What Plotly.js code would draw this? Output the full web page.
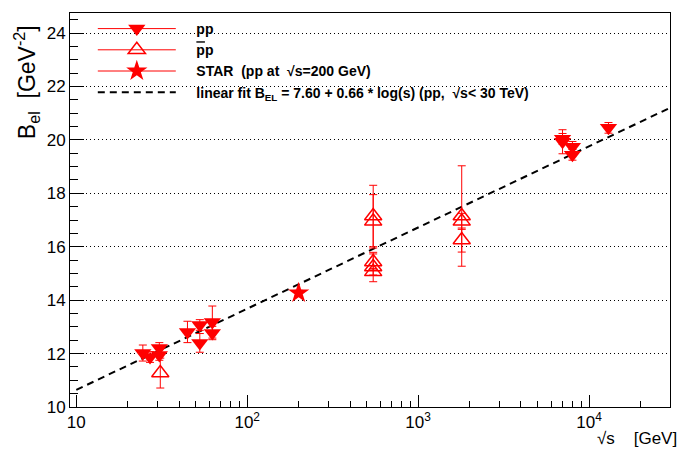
<!DOCTYPE html>
<html>
<head>
<meta charset="utf-8">
<script src="https://cdn.plot.ly/plotly-3.0.1.min.js"></script>
<style>html,body{margin:0;padding:0;background:#fff;}#chart{width:692px;height:455px;}</style>
</head>
<body>
<div id="chart"></div>
<script>
// pp data (filled down triangles)
const ppSqrtS = [24.5, 27, 30.6, 30.6, 44.7, 52.8, 52.8, 62.5, 62.5, 7000, 7000, 8000, 8000, 13000];
const ppB     = [12.02, 11.87, 12.21, 11.95, 12.81, 13.07, 12.40, 13.18, 12.77, 20.04, 19.93, 19.74, 19.44, 20.45];
const ppErr   = [0.3, 0.2, 0.2, 0.2, 0.4, 0.2, 0.35, 0.6, 0.25, 0.2, 0.45, 0.2, 0.2, 0.2];

// pbar-p data (open up triangles)
const pbarpSqrtS = [31, 546, 546, 546, 546, 546, 1800, 1800, 1800];
const pbarpB     = [11.27, 17.15, 16.95, 15.43, 15.24, 15.06, 17.15, 16.95, 16.25];
const pbarpErr   = [0.56, 1.15, 1.0, 0.3, 0.55, 0.12, 1.88, 0.3, 0.45];

// STAR point
const starSqrtS = [200];
const starB     = [14.27];
const starErr   = [0.1];

// linear fit line endpoints
const fitSqrtS = [10, 30000];
const fitB     = [10.64, 21.21];

// tick labels
const xTickVals = [10, 100, 1000, 10000];
const xTickText = ['10', '10<sup>2</sup>', '10<sup>3</sup>', '10<sup>4</sup>'];
const xMinorVals = [20,30,40,50,60,70,80,90,200,300,400,500,600,700,800,900,2000,3000,4000,5000,6000,7000,8000,9000,20000];
const yTickVals = [10, 12, 14, 16, 18, 20, 22, 24];

// legend labels
const legendNames = [
  'pp',
  '<span style="text-decoration:overline">p</span>p',
  'STAR  (pp at  \u221As=200 GeV)',
  'linear fit B<sub>EL</sub> = 7.60 + 0.66 * log(s) (pp,  \u221As< 30 TeV)'
];

const red = '#ff0000';
const font = 'Liberation Sans, Arial, Helvetica, sans-serif';
const pad = '\u00a0\u00a0\u00a0\u00a0';

const traces = [
  {x: fitSqrtS, y: fitB, mode: 'lines', line: {color: '#000', width: 2, dash: '7px,5px'}, showlegend: false, hoverinfo: 'skip'},
  {x: pbarpSqrtS, y: pbarpB, mode: 'markers', showlegend: false,
   marker: {symbol: 'triangle-up-open', size: 15, color: red, line: {color: red, width: 1.5}},
   error_y: {type: 'data', array: pbarpErr, color: red, thickness: 1, width: 4}},
  {x: ppSqrtS, y: ppB, mode: 'markers', showlegend: false,
   marker: {symbol: 'triangle-down', size: 15, color: red},
   error_y: {type: 'data', array: ppErr, color: red, thickness: 1, width: 4}},
  {x: starSqrtS, y: starB, mode: 'markers', showlegend: false,
   marker: {symbol: 'star', size: 16, color: red},
   error_y: {type: 'data', array: starErr, color: red, thickness: 1, width: 4}},
  // legend entries
  {x: [null], y: [null], mode: 'lines+markers', name: pad + legendNames[0], legendgroup: 'a',
   line: {color: red, width: 1}, marker: {symbol: 'triangle-down', size: 15, color: red}},
  {x: [null], y: [null], mode: 'lines+markers', name: pad + legendNames[1], legendgroup: 'b',
   line: {color: red, width: 1}, marker: {symbol: 'triangle-up-open', size: 15, color: red, line: {color: red, width: 1.5}}},
  {x: [null], y: [null], mode: 'lines+markers', name: pad + legendNames[2], legendgroup: 'c',
   line: {color: red, width: 1}, marker: {symbol: 'star', size: 16, color: red}},
  {x: [null], y: [null], mode: 'lines', name: pad + legendNames[3], legendgroup: 'd',
   line: {color: '#000', width: 2, dash: '7px,5px'}}
];

const layout = {
  width: 692, height: 455,
  margin: {l: 70, r: 22, t: 13, b: 48},
  paper_bgcolor: '#fff', plot_bgcolor: '#fff',
  font: {family: font, color: '#000'},
  showlegend: true,
  legend: {x: 0.038, y: 1.0, xanchor: 'left', yanchor: 'top', bgcolor: 'rgba(0,0,0,0)', borderwidth: 0,
           itemwidth: 78, font: {family: font, size: 14, color: '#000', weight: 'bold'}, tracegroupgap: 0},
  xaxis: {type: 'log', range: [0.963, 4.474], showgrid: false, zeroline: false,
          showline: true, linecolor: '#000', linewidth: 1, mirror: true,
          ticks: 'inside', ticklen: 12, tickcolor: '#000', tickwidth: 1,
          tickmode: 'array', tickvals: xTickVals, ticktext: xTickText,
          tickfont: {family: font, size: 17, color: '#000'},
          minor: {tickmode: 'array', tickvals: xMinorVals, ticks: 'inside', ticklen: 6, tickcolor: '#000', showgrid: false}},
  yaxis: {range: [10, 24.75], showgrid: true, gridcolor: '#000', griddash: '1px,3px', gridwidth: 1,
          zeroline: false, showline: true, linecolor: '#000', linewidth: 1, mirror: true,
          ticks: 'inside', ticklen: 14, tickcolor: '#000', tickwidth: 1,
          tickmode: 'array', tickvals: yTickVals,
          tickfont: {family: font, size: 17, color: '#000'},
          minor: {dtick: 0.5, ticks: 'inside', ticklen: 8, tickcolor: '#000', showgrid: false}},
  annotations: [
    {xref: 'paper', yref: 'paper', x: -0.073, y: 0.825, xanchor: 'center', yanchor: 'middle', textangle: -90,
     text: 'B<sub>el</sub>  [GeV<sup>-2</sup>]', showarrow: false, font: {family: font, size: 23, color: '#000'}},
    {xref: 'paper', yref: 'paper', x: 1.015, y: -0.08, xanchor: 'right', yanchor: 'middle',
     text: '\u221As    [GeV]', showarrow: false, font: {family: font, size: 17, color: '#000'}}
  ]
};

Plotly.newPlot('chart', traces, layout, {displayModeBar: false, staticPlot: true});
</script>
</body>
</html>
